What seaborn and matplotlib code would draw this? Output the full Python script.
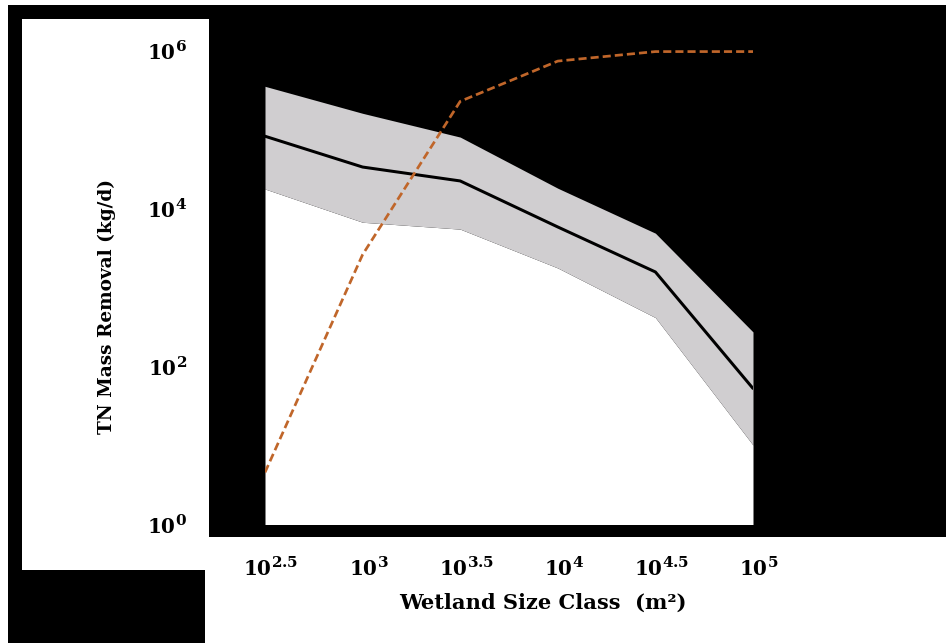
import numpy as np
import pandas as pd
import matplotlib
matplotlib.use("Agg")
import matplotlib.pyplot as plt
import matplotlib.transforms as mtransforms
from matplotlib.patches import Rectangle
import seaborn as sns

try:
    import matplotlib._mathtext as _mt
    _mt.SHRINK_FACTOR = 0.76
except Exception:
    pass

# ---- data ----
size_labels = [r"$10^{2.5}$", r"$10^{3}$", r"$10^{3.5}$", r"$10^{4}$", r"$10^{4.5}$", r"$10^{5}$"]
size_class = [316.2, 1000.0, 3162.3, 10000.0, 31622.8, 100000.0]
mean_removal = [81000, 33000, 22000, 5750, 1550, 52]
upper_removal = [347000, 158000, 79000, 17800, 4800, 270]
lower_removal = [17400, 6600, 5400, 1740, 410, 10]
potential_removal = [4.5, 2570, 224000, 724000, 955000, 955000]
y_ticks = [1, 100, 10000, 1000000]
y_tick_labels = [r"$10^{0}$", r"$10^{2}$", r"$10^{4}$", r"$10^{6}$"]

df = pd.DataFrame({
    "size": size_class,
    "mean": mean_removal,
    "upper": upper_removal,
    "lower": lower_removal,
    "potential": potential_removal,
})

sns.set_style("white")
plt.rcParams["font.family"] = ["DejaVu Serif"]
plt.rcParams["mathtext.fontset"] = "custom"
plt.rcParams["mathtext.rm"] = "DejaVu Serif:bold"
plt.rcParams["mathtext.bf"] = "DejaVu Serif:bold"
plt.rcParams["mathtext.default"] = "rm"

W, H = 946, 643
DPI = 72
fig = plt.figure(figsize=(W / DPI, H / DPI), dpi=DPI)
fig.patch.set_facecolor("black")


def px_rect(x0, y0, x1, y1, color="white"):
    r = Rectangle((x0 / W, 1 - y1 / H), (x1 - x0) / W, (y1 - y0) / H,
                  transform=fig.transFigure, facecolor=color, edgecolor="none", zorder=-5)
    fig.patches.append(r)


px_rect(0, 0, W, 5)
px_rect(0, 0, 8, H)
px_rect(22, 19, 209, 570)
px_rect(205, 537, W, H)

ax_l, ax_r, ax_t, ax_b = 265, 753, 50, 524
ax = fig.add_axes([ax_l / W, 1 - ax_b / H, (ax_r - ax_l) / W, (ax_b - ax_t) / H])
ax.set_facecolor("black")
ax.set_xscale("log")
ax.set_yscale("log")

ax.fill_between(df["size"], 1e-3, df["lower"], color="white", lw=0, zorder=1)
ax.fill_between(df["size"], df["lower"], df["upper"], color="#D0CED0", lw=0, zorder=2)
sns.lineplot(data=df, x="size", y="mean", ax=ax, color="black", lw=3, zorder=3)
sns.lineplot(data=df, x="size", y="potential", ax=ax, color="#C0662A", lw=2.7,
             linestyle=(0, (3, 1.5)), zorder=4)

ax.set_xlim(size_class[0], size_class[-1])
ax.set_ylim(1, 1e6)
ax.set_xticks(size_class)
ax.set_xticklabels(size_labels)
ax.set_yticks(y_ticks)
ax.set_yticklabels(y_tick_labels)
ax.minorticks_off()
for s in ax.spines.values():
    s.set_visible(False)
ax.tick_params(axis="x", direction="in", length=4, width=1, color="black",
               pad=33, labelsize=20, labelcolor="black")
ax.tick_params(axis="y", length=0, pad=78, labelsize=20, labelcolor="black")
ax.grid(False)

shift = mtransforms.ScaledTranslation(6 / DPI, 0, fig.dpi_scale_trans)
for lab in ax.get_xticklabels():
    lab.set_transform(lab.get_transform() + shift)

ax.set_xlabel("Wetland Size Class  (m²)", fontsize=21, fontweight="bold", color="black", va="center")
ax.xaxis.set_label_coords((543 - ax_l) / (ax_r - ax_l), (ax_b - 603) / (ax_b - ax_t))
ax.set_ylabel("TN Mass Removal (kg/d)", fontsize=18.5, fontweight="bold", color="black", va="center")
ax.yaxis.set_label_coords((107 - ax_l) / (ax_r - ax_l), (ax_b - 306) / (ax_b - ax_t))

fig.savefig("out.png", dpi=DPI, facecolor=fig.get_facecolor())
